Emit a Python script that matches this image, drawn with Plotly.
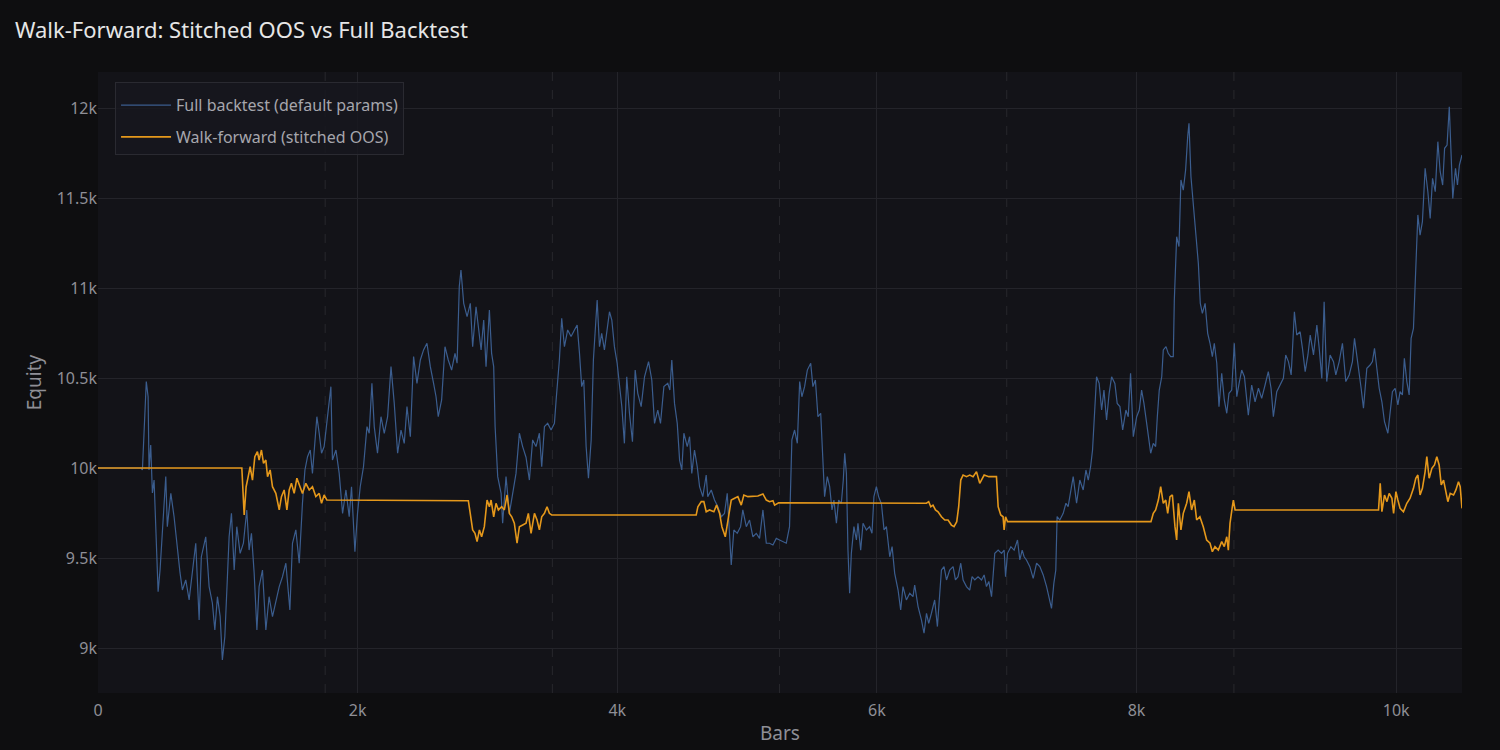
import plotly.graph_objects as go

# full backtest equity
full_bars = [
    0, 330, 342, 355, 372, 386, 393, 406, 419, 432, 445, 463, 478, 496, 522, 534, 561, 586, 611, 632,
    650, 676, 702, 727, 753, 779, 796, 830, 856, 881, 900, 920, 941, 958, 977, 997, 1010, 1028, 1049, 1069,
    1095, 1120, 1146, 1164, 1182, 1203, 1224, 1241, 1267, 1293, 1318, 1344, 1370, 1396, 1421, 1447, 1478, 1498, 1524, 1550,
    1575, 1594, 1614, 1635, 1652, 1671, 1686, 1704, 1722, 1742, 1768, 1794, 1806, 1833, 1858, 1884, 1910, 1935, 1953, 1979,
    1999, 2020, 2045, 2072, 2089, 2110, 2128, 2153, 2180, 2205, 2231, 2257, 2282, 2308, 2334, 2359, 2380, 2406, 2431, 2457,
    2483, 2508, 2534, 2560, 2585, 2604, 2621, 2647, 2673, 2698, 2724, 2750, 2766, 2783, 2796, 2817, 2843, 2868, 2886, 2912,
    2930, 2951, 2971, 2989, 3015, 3032, 3048, 3059, 3079, 3105, 3117, 3143, 3169, 3194, 3220, 3246, 3271, 3297, 3323, 3348,
    3374, 3400, 3418, 3439, 3464, 3490, 3516, 3529, 3554, 3572, 3593, 3618, 3644, 3670, 3691, 3709, 3726, 3742, 3760, 3778,
    3799, 3816, 3829, 3845, 3863, 3880, 3901, 3919, 3940, 3958, 3978, 3999, 4017, 4035, 4055, 4073, 4094, 4117, 4138, 4158,
    4184, 4210, 4241, 4266, 4287, 4312, 4333, 4359, 4389, 4405, 4420, 4441, 4462, 4480, 4497, 4513, 4539, 4557, 4574, 4595,
    4616, 4634, 4659, 4685, 4697, 4724, 4749, 4775, 4801, 4826, 4847, 4865, 4878, 4898, 4924, 4950, 4967, 4994, 5019, 5045,
    5071, 5096, 5122, 5148, 5173, 5199, 5225, 5250, 5276, 5302, 5327, 5345, 5366, 5387, 5405, 5422, 5443, 5464, 5490, 5507,
    5526, 5546, 5567, 5584, 5597, 5618, 5636, 5654, 5669, 5688, 5705, 5726, 5741, 5752, 5765, 5777, 5790, 5803, 5823, 5842,
    5854, 5875, 5893, 5919, 5944, 5962, 5977, 5996, 6013, 6035, 6055, 6073, 6099, 6117, 6137, 6163, 6183, 6201, 6227, 6253,
    6278, 6291, 6317, 6343, 6363, 6382, 6399, 6420, 6445, 6466, 6484, 6497, 6517, 6536, 6561, 6587, 6605, 6625, 6646, 6664,
    6690, 6715, 6733, 6754, 6779, 6806, 6826, 6844, 6862, 6883, 6908, 6934, 6960, 6980, 6991, 7006, 7032, 7057, 7083, 7101,
    7119, 7134, 7152, 7178, 7204, 7230, 7255, 7281, 7307, 7327, 7345, 7363, 7378, 7388, 7409, 7435, 7456, 7473, 7492, 7512,
    7538, 7563, 7589, 7610, 7628, 7646, 7661, 7674, 7692, 7712, 7731, 7749, 7769, 7789, 7808, 7833, 7851, 7872, 7893, 7918,
    7936, 7954, 7975, 8001, 8021, 8039, 8057, 8078, 8098, 8109, 8129, 8147, 8160, 8175, 8194, 8206, 8227, 8244, 8263, 8283,
    8291, 8304, 8309, 8327, 8342, 8360, 8378, 8394, 8404, 8419, 8437, 8450, 8466, 8476, 8491, 8507, 8528, 8548, 8566, 8584,
    8599, 8618, 8635, 8656, 8676, 8695, 8712, 8733, 8753, 8772, 8790, 8810, 8831, 8861, 8887, 8913, 8939, 8964, 8990, 9015,
    9036, 9054, 9080, 9106, 9131, 9149, 9170, 9191, 9216, 9234, 9260, 9278, 9299, 9320, 9338, 9363, 9389, 9407, 9427, 9445,
    9465, 9491, 9517, 9535, 9561, 9586, 9612, 9638, 9663, 9679, 9705, 9730, 9748, 9774, 9799, 9817, 9833, 9851, 9869, 9890,
    9910, 9936, 9954, 9971, 9992, 10013, 10030, 10048, 10063, 10082, 10100, 10115, 10133, 10146, 10156, 10167, 10184, 10202, 10223, 10244,
    10262, 10280, 10301, 10321, 10339, 10358, 10373, 10392, 10409, 10424, 10436, 10457, 10472, 10487, 10507,
]
full_equity = [
    10000, 10000, 9989, 10194, 10480, 10396, 9989, 10128, 9861, 9933, 9639, 9313, 9433, 9656, 9952, 9674, 9859, 9729, 9544, 9417,
    9322, 9378, 9267, 9433, 9582, 9156, 9507, 9618, 9341, 9250, 9100, 9285, 9174, 8933, 9063, 9396, 9618, 9748, 9433, 9674,
    9526, 9582, 9767, 9544, 9637, 9415, 9100, 9341, 9433, 9100, 9285, 9174, 9267, 9341, 9396, 9471, 9211, 9582, 9656, 9471,
    9804, 9989, 10063, 10100, 9970, 10174, 10285, 10193, 10082, 10119, 10285, 10452, 10044, 10100, 9970, 9748, 9878, 9729, 9896, 9535,
    9748, 9896, 10007, 10230, 10193, 10470, 10230, 10082, 10285, 10193, 10285, 10563, 10359, 10082, 10211, 10137, 10341, 10174, 10619, 10470,
    10600, 10656, 10693, 10563, 10470, 10396, 10285, 10378, 10674, 10600, 10544, 10637, 10582, 11007, 11100, 10915, 10841, 10915, 10674, 10896,
    10785, 10656, 10822, 10563, 10878, 10637, 10563, 10230, 9952, 9859, 9693, 9952, 9748, 9859, 9970, 10193, 10119, 10060, 9933, 10156,
    10119, 10193, 10007, 10230, 10248, 10211, 10248, 10378, 10600, 10832, 10674, 10767, 10730, 10767, 10794, 10637, 10452, 10489, 10119, 9943,
    10156, 10600, 10748, 10933, 10674, 10748, 10656, 10767, 10868, 10822, 10674, 10582, 10452, 10341, 10137, 10507, 10304, 10146, 10544, 10415,
    10341, 10507, 10591, 10489, 10248, 10322, 10248, 10452, 10470, 10433, 10600, 10359, 10248, 10044, 9989, 10193, 10119, 10174, 9970, 10100,
    10007, 9896, 9841, 9961, 9841, 9878, 9822, 9785, 9729, 9748, 9859, 9637, 9461, 9656, 9637, 9674, 9767, 9674, 9711, 9618,
    9637, 9609, 9767, 9582, 9582, 9572, 9609, 9600, 9591, 9582, 9674, 10156, 10211, 10137, 10480, 10396, 10452, 10544, 10582, 10452,
    10489, 10285, 10304, 10063, 9841, 9952, 9896, 9767, 9822, 9693, 9822, 9804, 9933, 10082, 9970, 9544, 9304, 9526, 9674, 9600,
    9693, 9544, 9693, 9656, 9674, 9637, 9841, 9896, 9841, 9800, 9656, 9674, 9507, 9563, 9415, 9322, 9211, 9341, 9267, 9304,
    9285, 9350, 9230, 9156, 9082, 9193, 9137, 9193, 9267, 9119, 9304, 9433, 9452, 9378, 9433, 9452, 9378, 9396, 9471, 9378,
    9341, 9322, 9396, 9378, 9396, 9378, 9406, 9341, 9370, 9285, 9526, 9544, 9526, 9544, 9396, 9526, 9563, 9544, 9600, 9489,
    9544, 9507, 9489, 9452, 9387, 9471, 9452, 9406, 9341, 9285, 9220, 9359, 9433, 9730, 9711, 9748, 9804, 9785, 9859, 9952,
    9804, 9933, 9878, 9989, 9933, 10007, 10100, 10285, 10507, 10470, 10322, 10433, 10267, 10415, 10507, 10470, 10359, 10341, 10211, 10322,
    10285, 10526, 10174, 10285, 10322, 10433, 10359, 10248, 10137, 10082, 10137, 10119, 10285, 10433, 10507, 10656, 10674, 10637, 10619, 10619,
    10933, 11193, 11285, 11230, 11600, 11544, 11656, 11841, 11915, 11619, 11470, 11341, 11211, 11137, 10915, 10859, 10915, 10748, 10693, 10619,
    10693, 10582, 10341, 10526, 10378, 10304, 10415, 10433, 10693, 10396, 10470, 10544, 10507, 10294, 10461, 10368, 10443, 10387, 10461, 10535,
    10443, 10285, 10424, 10461, 10498, 10628, 10591, 10517, 10868, 10739, 10757, 10665, 10535, 10628, 10739, 10628, 10794, 10665, 10498, 10924,
    10480, 10628, 10591, 10517, 10591, 10693, 10480, 10517, 10591, 10720, 10591, 10443, 10332, 10554, 10572, 10591, 10665, 10554, 10443, 10368,
    10257, 10193, 10332, 10424, 10443, 10350, 10424, 10406, 10609, 10480, 10406, 10720, 10776, 10998, 11220, 11406, 11294, 11369, 11665, 11535,
    11387, 11609, 11535, 11813, 11646, 11572, 11776, 11794, 12007, 11720, 11498, 11665, 11572, 11683, 11739,
]

# walk-forward stitched out-of-sample equity
wf_bars = [
    0, 1108, 1126, 1141, 1157, 1172, 1190, 1208, 1228, 1241, 1259, 1275, 1293, 1306, 1326, 1344, 1370, 1396, 1413, 1434,
    1455, 1473, 1490, 1511, 1532, 1550, 1575, 1601, 1627, 1652, 1678, 1704, 1722, 1742, 1763,
    2853, 2868, 2886, 2904, 2920, 2938, 2955, 2976, 2997, 3015, 3028, 3048, 3066, 3084, 3110, 3130, 3151, 3169, 3187, 3207,
    3228, 3246, 3271, 3297, 3315, 3336, 3362, 3382, 3400, 3418, 3439, 3459, 3477, 3495,
    4608, 4621, 4647, 4667, 4685, 4711, 4744, 4765, 4788, 4806, 4832, 4852, 4878, 4904, 4929, 4955, 4975, 5006, 5045, 5083,
    5122, 5148, 5173, 5199, 5212, 5243,
    6381, 6399, 6415, 6432, 6451, 6471, 6497, 6523, 6548, 6574, 6594, 6615, 6630, 6646, 6664, 6690, 6715, 6741, 6767, 6792,
    6826, 6862, 6895, 6921, 6934, 6954, 6972, 6980, 6991, 7006,
    8111, 8129, 8147, 8168, 8186, 8206, 8225, 8240, 8258, 8276, 8296, 8309, 8322, 8342, 8360, 8386, 8404, 8424, 8445, 8463,
    8488, 8514, 8540, 8566, 8584, 8604, 8630, 8656, 8676, 8695, 8707, 8720, 8738, 8746, 8759,
    9864, 9877, 9890, 9910, 9929, 9946, 9967, 9980, 9998, 10013, 10030, 10056, 10082, 10107, 10133, 10151, 10167, 10184, 10202, 10223,
    10236, 10254, 10275, 10295, 10313, 10331, 10347, 10365, 10383, 10398, 10416, 10442, 10460, 10480, 10493, 10507,
]
wf_equity = [
    10000, 10000, 9739, 9896, 9952, 10007, 9933, 10063, 10091, 10044, 10100, 10026, 10044, 9952, 9989, 9896, 9859, 9767, 9841, 9878,
    9767, 9878, 9915, 9859, 9943, 9906, 9859, 9915, 9878, 9896, 9841, 9859, 9804, 9850, 9822,
    9818, 9729, 9656, 9637, 9591, 9656, 9618, 9674, 9822, 9785, 9822, 9729, 9804, 9767, 9785, 9767, 9850, 9748, 9729, 9693,
    9582, 9674, 9683, 9693, 9748, 9637, 9748, 9711, 9656, 9729, 9748, 9785, 9748, 9739,
    9739, 9785, 9813, 9813, 9757, 9767, 9757, 9794, 9748, 9674, 9618, 9711, 9822, 9832, 9841, 9794, 9850, 9841, 9844, 9844,
    9856, 9822, 9813, 9818, 9794, 9807,
    9804, 9813, 9785, 9794, 9767, 9757, 9729, 9711, 9711, 9683, 9674, 9702, 9785, 9933, 9961, 9952, 9961, 9952, 9980, 9915,
    9961, 9952, 9952, 9952, 9785, 9739, 9729, 9656, 9729, 9702,
    9702, 9748, 9767, 9822, 9896, 9804, 9822, 9748, 9841, 9850, 9674, 9600, 9804, 9656, 9748, 9804, 9869, 9767, 9822, 9711,
    9729, 9674, 9600, 9582, 9535, 9563, 9544, 9591, 9563, 9618, 9544, 9693, 9785, 9822, 9767,
    9767, 9915, 9757, 9850, 9813, 9859, 9832, 9748, 9869, 9822, 9776, 9757, 9804, 9832, 9887, 9943, 9961, 9850, 9887, 9980,
    10063, 9943, 9998, 10017, 10063, 10017, 9906, 9933, 9869, 9813, 9859, 9850, 9878, 9924, 9896, 9776,
]

# walk-forward window boundaries (bars)
window_edges = [1750, 3500, 5250, 7000, 8750]

font_family = "Noto Sans, Open Sans, sans-serif"

fig = go.Figure()
fig.add_trace(go.Scatter(
    x=full_bars, y=full_equity, mode="lines",
    name="Full backtest (default params)", legendgroup="full",
    line=dict(color="#3b5d8e", width=1.2),
))
fig.add_trace(go.Scatter(
    x=wf_bars, y=wf_equity, mode="lines",
    name="Walk-forward (stitched OOS)", legendgroup="wf",
    line=dict(color="#e5981b", width=1.6),
))

for edge in window_edges:
    fig.add_vline(x=edge, line_width=1, line_dash="dash",
                  line_color="rgba(255,255,255,0.09)", layer="below")

fig.update_layout(
    width=1500, height=750,
    paper_bgcolor="#0e0e10",
    plot_bgcolor="#131318",
    font=dict(family=font_family, color="#8f8f96", size=16),
    title=dict(text="Walk-Forward: Stitched OOS vs Full Backtest",
               x=0.01, xanchor="left", y=0.96, yanchor="middle",
               font=dict(size=22, color="#e6e6e6")),
    margin=dict(l=98, r=38, t=72, b=57),
    legend=dict(x=0.0125, y=0.984, xanchor="left", yanchor="top",
                bgcolor="rgba(24,24,30,0.85)", bordercolor="#2a2a31", borderwidth=1,
                tracegroupgap=8, itemwidth=50,
                title=dict(text=" ", font=dict(size=4)),
                font=dict(size=16, color="#a6a6ad")),
    showlegend=True,
)
fig.update_xaxes(
    title=dict(text="Bars", font=dict(size=19, color="#8f8f96"), standoff=6),
    range=[0, 10507], dtick=2000, tick0=0, automargin=False,
    ticks="outside", ticklen=3, tickcolor="rgba(0,0,0,0)",
    showgrid=True, gridcolor="#24242a", zeroline=False,
    showline=False, tickfont=dict(size=16, color="#8f8f96"),
)
fig.update_yaxes(
    title=dict(text="Equity", font=dict(size=19, color="#8f8f96"), standoff=10),
    range=[8750, 12200], dtick=500, tick0=9000,
    showgrid=True, gridcolor="#24242a", zeroline=False,
    showline=False, tickfont=dict(size=16, color="#8f8f96"),
)

fig.write_html("out.html", config={"displayModeBar": False},
               post_script="document.body.style.margin='0';")
